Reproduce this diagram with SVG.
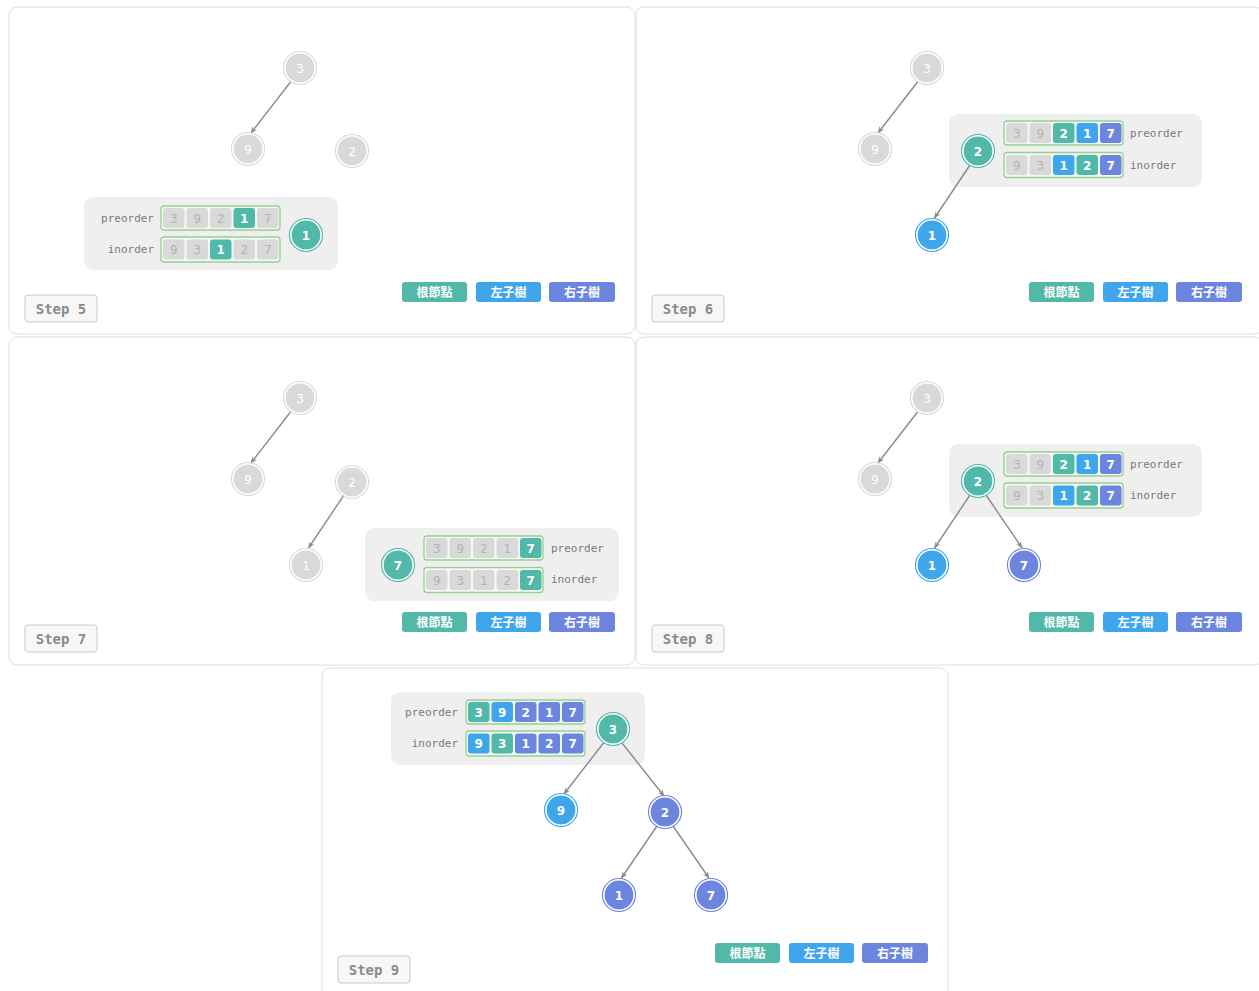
<svg xmlns="http://www.w3.org/2000/svg" width="1259" height="991" viewBox="0 0 1259 991">
<style>
.panel{fill:#fff;stroke:#dedede;stroke-width:1}
.gbox{fill:#efefef}
.arr{fill:#f3f8f1;stroke:#96d095;stroke-width:1.3}
.c{stroke:none}
.g{fill:#d9d9d9}.T{fill:#52b8aa}.B{fill:#40a6eb}.P{fill:#6c85de}
.ct{font-family:"DejaVu Sans","Noto Sans",sans-serif;font-size:12px;text-anchor:middle;fill:#b3b3b3}
.cw{font-family:"DejaVu Sans","Noto Sans",sans-serif;font-size:12px;font-weight:bold;text-anchor:middle;fill:#fff}
.lbl{font-family:"DejaVu Sans Mono","Liberation Mono",monospace;font-size:11px;fill:#7a7a7a}
.ring{fill:none;stroke-width:1.2}
.rg{stroke:#d9d9d9}.rT{stroke:#52b8aa}.rB{stroke:#40a6eb}.rP{stroke:#6c85de}
.nd{stroke:#fff;stroke-width:1.2}
.nt{font-family:"DejaVu Sans","Noto Sans",sans-serif;font-size:12px;font-weight:bold;text-anchor:middle;fill:#fff}
.nd.g + text{font-weight:normal}
.edge{stroke:#8a8a8a;stroke-width:1.4;fill:none;marker-end:url(#ah)}
.btn{font-family:"Noto Sans CJK TC","Noto Sans CJK SC",sans-serif;font-size:12px;font-weight:bold;text-anchor:middle;fill:#fff}
.sbox{fill:#f7f7f7;stroke:#c9c9c9;stroke-width:1}
.stxt{font-family:"DejaVu Sans Mono","Liberation Mono",monospace;font-size:14px;font-weight:bold;fill:#8a8a8a;text-anchor:middle}
</style>
<defs>
<marker id="ah" viewBox="0 0 10 10" refX="9" refY="5" markerWidth="7" markerHeight="7" orient="auto" markerUnits="userSpaceOnUse">
<path d="M0,1 L10,5 L0,9 L3,5 Z" fill="#8a8a8a"/>
</marker>
<g id="legend">
<rect x="393" y="275" width="65" height="20" rx="3" class="T"/>
<text x="425.5" y="289.5" class="btn">根節點</text>
<rect x="467" y="275" width="65" height="20" rx="3" class="B"/>
<text x="499.5" y="289.5" class="btn">左子樹</text>
<rect x="540" y="275" width="66" height="20" rx="3" class="P"/>
<text x="573" y="289.5" class="btn">右子樹</text>
</g>
</defs>

<!-- ================= STEP 5 ================= -->
<g id="step5" transform="translate(9,7)">
<rect class="panel" x="0" y="0" width="626" height="327" rx="8"/>
<g id="s5-arrays">
<rect class="gbox" x="75" y="190" width="254" height="73" rx="9"/>
<text class="lbl" x="145" y="215" text-anchor="end">preorder</text>
<text class="lbl" x="145" y="246" text-anchor="end">inorder</text>
<rect class="arr" x="152" y="199" width="119" height="24" rx="3"/>
<rect class="c g" x="154" y="201" width="21.5" height="20" rx="3"/><text class="ct" x="164.75" y="215.5">3</text>
<rect class="c g" x="177.5" y="201" width="21.5" height="20" rx="3"/><text class="ct" x="188.25" y="215.5">9</text>
<rect class="c g" x="201" y="201" width="21.5" height="20" rx="3"/><text class="ct" x="211.75" y="215.5">2</text>
<rect class="c T" x="224.5" y="201" width="21.5" height="20" rx="3"/><text class="cw" x="235.25" y="215.5">1</text>
<rect class="c g" x="248" y="201" width="21.5" height="20" rx="3"/><text class="ct" x="258.75" y="215.5">7</text>
<rect class="arr" x="152" y="230" width="119" height="25" rx="3"/>
<rect class="c g" x="154" y="232.5" width="21.5" height="20" rx="3"/><text class="ct" x="164.75" y="247">9</text>
<rect class="c g" x="177.5" y="232.5" width="21.5" height="20" rx="3"/><text class="ct" x="188.25" y="247">3</text>
<rect class="c T" x="201" y="232.5" width="21.5" height="20" rx="3"/><text class="cw" x="211.75" y="247">1</text>
<rect class="c g" x="224.5" y="232.5" width="21.5" height="20" rx="3"/><text class="ct" x="235.25" y="247">2</text>
<rect class="c g" x="248" y="232.5" width="21.5" height="20" rx="3"/><text class="ct" x="258.75" y="247">7</text>
</g>
<g id="s5-connectors">
<line class="edge" x1="281.5" y1="75" x2="242" y2="126"/>
</g>
<g id="s5-n3" transform="translate(291,61)"><circle class="ring rg" r="16.5"/><circle class="nd g" r="15"/><text class="nt" y="4.5">3</text></g>
<g id="s5-n9" transform="translate(239,142)"><circle class="ring rg" r="16.5"/><circle class="nd g" r="15"/><text class="nt" y="4.5">9</text></g>
<g id="s5-n2" transform="translate(343,144)"><circle class="ring rg" r="16.5"/><circle class="nd g" r="15"/><text class="nt" y="4.5">2</text></g>
<g id="s5-n1" transform="translate(297,228)"><circle class="ring rT" r="16.5"/><circle class="nd T" r="15"/><text class="nt" y="4.5">1</text></g>
<use href="#legend"/>
<g id="s5-label"><rect class="sbox" x="16" y="288" width="72" height="27" rx="3"/><text class="stxt" x="52" y="306.5">Step 5</text></g>
</g>

<!-- ================= STEP 6 ================= -->
<g id="step6" transform="translate(636,7)">
<rect class="panel" x="0" y="0" width="627" height="327" rx="8"/>
<g id="s6-arrays">
<rect class="gbox" x="313" y="107" width="253" height="73" rx="9"/>
<text class="lbl" x="494" y="130">preorder</text>
<text class="lbl" x="494" y="162">inorder</text>
<rect class="arr" x="368" y="114" width="119" height="24" rx="3"/>
<rect class="c g" x="370" y="116" width="21.5" height="20" rx="3"/><text class="ct" x="380.75" y="130.5">3</text>
<rect class="c g" x="393.5" y="116" width="21.5" height="20" rx="3"/><text class="ct" x="404.25" y="130.5">9</text>
<rect class="c T" x="417" y="116" width="21.5" height="20" rx="3"/><text class="cw" x="427.75" y="130.5">2</text>
<rect class="c B" x="440.5" y="116" width="21.5" height="20" rx="3"/><text class="cw" x="451.25" y="130.5">1</text>
<rect class="c P" x="464" y="116" width="21.5" height="20" rx="3"/><text class="cw" x="474.75" y="130.5">7</text>
<rect class="arr" x="368" y="145.5" width="119" height="25" rx="3"/>
<rect class="c g" x="370" y="148" width="21.5" height="20" rx="3"/><text class="ct" x="380.75" y="162.5">9</text>
<rect class="c g" x="393.5" y="148" width="21.5" height="20" rx="3"/><text class="ct" x="404.25" y="162.5">3</text>
<rect class="c B" x="417" y="148" width="21.5" height="20" rx="3"/><text class="cw" x="427.75" y="162.5">1</text>
<rect class="c T" x="440.5" y="148" width="21.5" height="20" rx="3"/><text class="cw" x="451.25" y="162.5">2</text>
<rect class="c P" x="464" y="148" width="21.5" height="20" rx="3"/><text class="cw" x="474.75" y="162.5">7</text>
</g>
<g id="s6-connectors">
<line class="edge" x1="281.5" y1="75" x2="242" y2="126"/>
<line class="edge" x1="334" y1="158" x2="298.5" y2="211"/>
</g>
<g id="s6-n3" transform="translate(291,61)"><circle class="ring rg" r="16.5"/><circle class="nd g" r="15"/><text class="nt" y="4.5">3</text></g>
<g id="s6-n9" transform="translate(239,142)"><circle class="ring rg" r="16.5"/><circle class="nd g" r="15"/><text class="nt" y="4.5">9</text></g>
<g id="s6-n2" transform="translate(342,144)"><circle class="ring rT" r="16.5"/><circle class="nd T" r="15"/><text class="nt" y="4.5">2</text></g>
<g id="s6-n1" transform="translate(296,228)"><circle class="ring rB" r="16.5"/><circle class="nd B" r="15"/><text class="nt" y="4.5">1</text></g>
<use href="#legend"/>
<g id="s6-label"><rect class="sbox" x="16" y="288" width="72" height="27" rx="3"/><text class="stxt" x="52" y="306.5">Step 6</text></g>
</g>

<!-- ================= STEP 7 ================= -->
<g id="step7" transform="translate(9,337)">
<rect class="panel" x="0" y="0" width="626" height="328" rx="8"/>
<g id="s7-arrays">
<rect class="gbox" x="356" y="191" width="254" height="73" rx="9"/>
<text class="lbl" x="542" y="215">preorder</text>
<text class="lbl" x="542" y="246">inorder</text>
<rect class="arr" x="415" y="199" width="119" height="24" rx="3"/>
<rect class="c g" x="417" y="201" width="21.5" height="20" rx="3"/><text class="ct" x="427.75" y="215.5">3</text>
<rect class="c g" x="440.5" y="201" width="21.5" height="20" rx="3"/><text class="ct" x="451.25" y="215.5">9</text>
<rect class="c g" x="464" y="201" width="21.5" height="20" rx="3"/><text class="ct" x="474.75" y="215.5">2</text>
<rect class="c g" x="487.5" y="201" width="21.5" height="20" rx="3"/><text class="ct" x="498.25" y="215.5">1</text>
<rect class="c T" x="511" y="201" width="21.5" height="20" rx="3"/><text class="cw" x="521.75" y="215.5">7</text>
<rect class="arr" x="415" y="230.5" width="119" height="25" rx="3"/>
<rect class="c g" x="417" y="233" width="21.5" height="20" rx="3"/><text class="ct" x="427.75" y="247.5">9</text>
<rect class="c g" x="440.5" y="233" width="21.5" height="20" rx="3"/><text class="ct" x="451.25" y="247.5">3</text>
<rect class="c g" x="464" y="233" width="21.5" height="20" rx="3"/><text class="ct" x="474.75" y="247.5">1</text>
<rect class="c g" x="487.5" y="233" width="21.5" height="20" rx="3"/><text class="ct" x="498.25" y="247.5">2</text>
<rect class="c T" x="511" y="233" width="21.5" height="20" rx="3"/><text class="cw" x="521.75" y="247.5">7</text>
</g>
<g id="s7-connectors">
<line class="edge" x1="281.5" y1="75" x2="242" y2="126"/>
<line class="edge" x1="335" y1="158" x2="299.5" y2="211"/>
</g>
<g id="s7-n3" transform="translate(291,61)"><circle class="ring rg" r="16.5"/><circle class="nd g" r="15"/><text class="nt" y="4.5">3</text></g>
<g id="s7-n9" transform="translate(239,142)"><circle class="ring rg" r="16.5"/><circle class="nd g" r="15"/><text class="nt" y="4.5">9</text></g>
<g id="s7-n2" transform="translate(343,145)"><circle class="ring rg" r="16.5"/><circle class="nd g" r="15"/><text class="nt" y="4.5">2</text></g>
<g id="s7-n1" transform="translate(297,228)"><circle class="ring rg" r="16.5"/><circle class="nd g" r="15"/><text class="nt" y="4.5">1</text></g>
<g id="s7-n7" transform="translate(389,228)"><circle class="ring rT" r="16.5"/><circle class="nd T" r="15"/><text class="nt" y="4.5">7</text></g>
<use href="#legend"/>
<g id="s7-label"><rect class="sbox" x="16" y="288" width="72" height="27" rx="3"/><text class="stxt" x="52" y="306.5">Step 7</text></g>
</g>

<!-- ================= STEP 8 ================= -->
<g id="step8" transform="translate(636,337)">
<rect class="panel" x="0" y="0" width="627" height="328" rx="8"/>
<g id="s8-arrays">
<rect class="gbox" x="313" y="107" width="253" height="73" rx="9"/>
<text class="lbl" x="494" y="131">preorder</text>
<text class="lbl" x="494" y="162">inorder</text>
<rect class="arr" x="368" y="115" width="119" height="24" rx="3"/>
<rect class="c g" x="370" y="117" width="21.5" height="20" rx="3"/><text class="ct" x="380.75" y="131.5">3</text>
<rect class="c g" x="393.5" y="117" width="21.5" height="20" rx="3"/><text class="ct" x="404.25" y="131.5">9</text>
<rect class="c T" x="417" y="117" width="21.5" height="20" rx="3"/><text class="cw" x="427.75" y="131.5">2</text>
<rect class="c B" x="440.5" y="117" width="21.5" height="20" rx="3"/><text class="cw" x="451.25" y="131.5">1</text>
<rect class="c P" x="464" y="117" width="21.5" height="20" rx="3"/><text class="cw" x="474.75" y="131.5">7</text>
<rect class="arr" x="368" y="146" width="119" height="25" rx="3"/>
<rect class="c g" x="370" y="148.5" width="21.5" height="20" rx="3"/><text class="ct" x="380.75" y="163">9</text>
<rect class="c g" x="393.5" y="148.5" width="21.5" height="20" rx="3"/><text class="ct" x="404.25" y="163">3</text>
<rect class="c B" x="417" y="148.5" width="21.5" height="20" rx="3"/><text class="cw" x="427.75" y="163">1</text>
<rect class="c T" x="440.5" y="148.5" width="21.5" height="20" rx="3"/><text class="cw" x="451.25" y="163">2</text>
<rect class="c P" x="464" y="148.5" width="21.5" height="20" rx="3"/><text class="cw" x="474.75" y="163">7</text>
</g>
<g id="s8-connectors">
<line class="edge" x1="281.5" y1="75" x2="242" y2="126"/>
<line class="edge" x1="334" y1="158" x2="298.5" y2="211"/>
<line class="edge" x1="350" y1="158" x2="386" y2="211"/>
</g>
<g id="s8-n3" transform="translate(291,61)"><circle class="ring rg" r="16.5"/><circle class="nd g" r="15"/><text class="nt" y="4.5">3</text></g>
<g id="s8-n9" transform="translate(239,142)"><circle class="ring rg" r="16.5"/><circle class="nd g" r="15"/><text class="nt" y="4.5">9</text></g>
<g id="s8-n2" transform="translate(342,144)"><circle class="ring rT" r="16.5"/><circle class="nd T" r="15"/><text class="nt" y="4.5">2</text></g>
<g id="s8-n1" transform="translate(296,228)"><circle class="ring rB" r="16.5"/><circle class="nd B" r="15"/><text class="nt" y="4.5">1</text></g>
<g id="s8-n7" transform="translate(388,228)"><circle class="ring rP" r="16.5"/><circle class="nd P" r="15"/><text class="nt" y="4.5">7</text></g>
<use href="#legend"/>
<g id="s8-label"><rect class="sbox" x="16" y="288" width="72" height="27" rx="3"/><text class="stxt" x="52" y="306.5">Step 8</text></g>
</g>

<!-- ================= STEP 9 ================= -->
<g id="step9" transform="translate(322,668)">
<rect class="panel" x="0" y="0" width="626" height="330" rx="8"/>
<g id="s9-arrays">
<rect class="gbox" x="69" y="24" width="254" height="73" rx="9"/>
<text class="lbl" x="136" y="48" text-anchor="end">preorder</text>
<text class="lbl" x="136" y="79" text-anchor="end">inorder</text>
<rect class="arr" x="144" y="32" width="119" height="24" rx="3"/>
<rect class="c T" x="146" y="34" width="21.5" height="20" rx="3"/><text class="cw" x="156.75" y="48.5">3</text>
<rect class="c B" x="169.5" y="34" width="21.5" height="20" rx="3"/><text class="cw" x="180.25" y="48.5">9</text>
<rect class="c P" x="193" y="34" width="21.5" height="20" rx="3"/><text class="cw" x="203.75" y="48.5">2</text>
<rect class="c P" x="216.5" y="34" width="21.5" height="20" rx="3"/><text class="cw" x="227.25" y="48.5">1</text>
<rect class="c P" x="240" y="34" width="21.5" height="20" rx="3"/><text class="cw" x="250.75" y="48.5">7</text>
<rect class="arr" x="144" y="63" width="119" height="25" rx="3"/>
<rect class="c B" x="146" y="65.5" width="21.5" height="20" rx="3"/><text class="cw" x="156.75" y="80">9</text>
<rect class="c T" x="169.5" y="65.5" width="21.5" height="20" rx="3"/><text class="cw" x="180.25" y="80">3</text>
<rect class="c P" x="193" y="65.5" width="21.5" height="20" rx="3"/><text class="cw" x="203.75" y="80">1</text>
<rect class="c P" x="216.5" y="65.5" width="21.5" height="20" rx="3"/><text class="cw" x="227.25" y="80">2</text>
<rect class="c P" x="240" y="65.5" width="21.5" height="20" rx="3"/><text class="cw" x="250.75" y="80">7</text>
</g>
<g id="s9-connectors">
<line class="edge" x1="281.5" y1="75" x2="242" y2="126"/>
<line class="edge" x1="300" y1="75" x2="342" y2="128"/>
<line class="edge" x1="335" y1="158" x2="299.5" y2="210"/>
<line class="edge" x1="351" y1="158" x2="387" y2="210"/>
</g>
<g id="s9-n3" transform="translate(291,61)"><circle class="ring rT" r="16.5"/><circle class="nd T" r="15"/><text class="nt" y="4.5">3</text></g>
<g id="s9-n9" transform="translate(239,142)"><circle class="ring rB" r="16.5"/><circle class="nd B" r="15"/><text class="nt" y="4.5">9</text></g>
<g id="s9-n2" transform="translate(343,144)"><circle class="ring rP" r="16.5"/><circle class="nd P" r="15"/><text class="nt" y="4.5">2</text></g>
<g id="s9-n1" transform="translate(297,227)"><circle class="ring rP" r="16.5"/><circle class="nd P" r="15"/><text class="nt" y="4.5">1</text></g>
<g id="s9-n7" transform="translate(389,227)"><circle class="ring rP" r="16.5"/><circle class="nd P" r="15"/><text class="nt" y="4.5">7</text></g>
<use href="#legend"/>
<g id="s9-label"><rect class="sbox" x="16" y="288" width="72" height="27" rx="3"/><text class="stxt" x="52" y="306.5">Step 9</text></g>
</g>
</svg>
